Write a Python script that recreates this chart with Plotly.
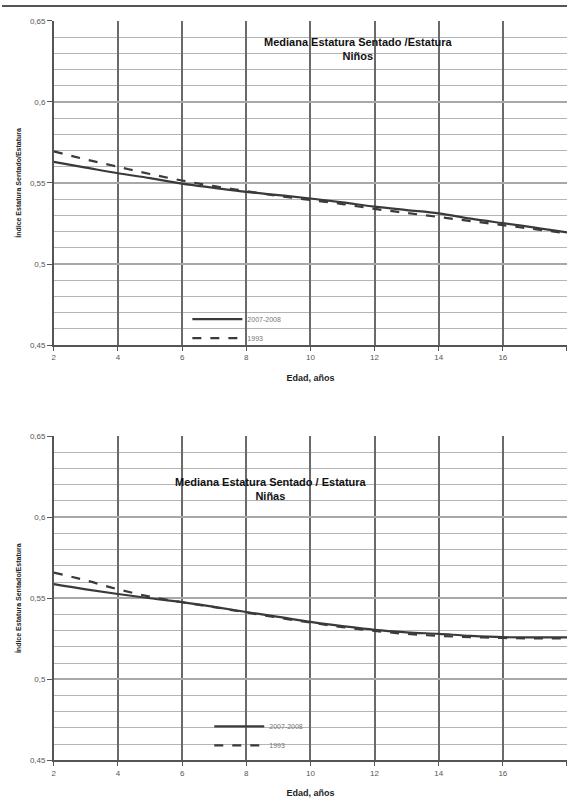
import plotly.graph_objects as go

# ---- data ----
ages = [2, 3, 4, 5, 6, 7, 8, 9, 10, 11, 12, 13, 14, 15, 16, 17, 18]

ninos_solid = [0.5630, 0.5595, 0.5560, 0.5530, 0.5496, 0.5470, 0.5445, 0.5425, 0.5404,
               0.5380, 0.5354, 0.5333, 0.5313, 0.5280, 0.5252, 0.5225, 0.5195]
ninos_dash = [0.5695, 0.5645, 0.5600, 0.5555, 0.5515, 0.5480, 0.5450, 0.5420, 0.5395,
              0.5370, 0.5340, 0.5315, 0.5290, 0.5265, 0.5240, 0.5215, 0.5190]

ninas_solid = [0.5587, 0.5555, 0.5526, 0.5500, 0.5476, 0.5447, 0.5415, 0.5385, 0.5354,
               0.5328, 0.5305, 0.5290, 0.5280, 0.5268, 0.5260, 0.5258, 0.5258]
ninas_dash = [0.5658, 0.5610, 0.5555, 0.5510, 0.5475, 0.5445, 0.5412, 0.5380, 0.5350,
              0.5322, 0.5298, 0.5280, 0.5268, 0.5260, 0.5255, 0.5252, 0.5252]

series_names = ["2007-2008", "1993"]
titles = ["Mediana Estatura Sentado /Estatura<br>Niños",
          "Mediana Estatura Sentado / Estatura<br>Niñas"]
x_ticks = [2, 4, 6, 8, 10, 12, 14, 16, 18]
y_ticks = [0.45, 0.50, 0.55, 0.60, 0.65]
y_ticktext = ["0,45", "0,5", "0,55", "0,6", "0,65"]
x_title = "Edad, años"
y_title = "Índice Estatura Sentado/Estatura"

W, H = 567, 799
LINE = "#3a3a3a"

fig = go.Figure()

panels = [
    (ninos_solid, ninos_dash, "x", "y", "legend"),
    (ninas_solid, ninas_dash, "x2", "y2", "legend2"),
]
for solid, dash, xa, ya, lg in panels:
    fig.add_trace(go.Scatter(x=ages, y=solid, mode="lines", name=series_names[0],
                             line=dict(color=LINE, width=2.2, shape="spline"),
                             xaxis=xa, yaxis=ya, legend=lg))
    fig.add_trace(go.Scatter(x=ages, y=dash, mode="lines", name=series_names[1],
                             line=dict(color=LINE, width=2.2, dash="dash", shape="spline"),
                             xaxis=xa, yaxis=ya, legend=lg))

def px_y(p):
    return 1 - p / H

x_dom = [52 / W, 1.0]
dom_top = [px_y(345), px_y(17)]
dom_bot = [px_y(765), px_y(437)]

tickfont = dict(family="Liberation Sans, Arial", size=8, color="#555")
titlefont = dict(family="Liberation Sans, Arial", size=9, color="#222")

def xaxis(anchor, dom):
    return dict(domain=x_dom, anchor=anchor, range=[2, 18], tickvals=x_ticks,
                showgrid=True, gridcolor="#6a6a6a", gridwidth=1.6,
                showline=True, linecolor="#555", linewidth=1.5,
                ticks="outside", ticklen=4, tickcolor="#555",
                tickfont=tickfont, zeroline=False,
                title=dict(text="<b>" + x_title + "</b>", font=titlefont, standoff=13))

def yaxis(anchor, dom):
    return dict(domain=dom, anchor=anchor, range=[0.45, 0.65],
                tickvals=y_ticks, ticktext=y_ticktext,
                showgrid=True, gridcolor="#a8a8a8", gridwidth=1.6,
                minor=dict(dtick=0.01, tick0=0.45, showgrid=True,
                           gridcolor="#b4b4b4", gridwidth=1.4),
                showline=True, linecolor="#555", linewidth=1.5,
                ticks="outside", ticklen=5, tickcolor="#555",
                tickfont=tickfont, zeroline=False,
                title=dict(text="<b>" + y_title + "</b>",
                           font=dict(family="Liberation Sans, Arial", size=7, color="#222"),
                           standoff=7))

legfont = dict(family="Liberation Sans, Arial", size=7, color="#777")

fig.update_layout(
    width=W, height=H,
    margin=dict(l=0, r=0, t=0, b=0),
    paper_bgcolor="white", plot_bgcolor="white",
    xaxis=xaxis("y", dom_top), yaxis=yaxis("x", dom_top),
    xaxis2=xaxis("y2", dom_bot), yaxis2=yaxis("x2", dom_bot),
    legend=dict(x=186 / W, y=px_y(304), xanchor="left", yanchor="top",
                bgcolor="rgba(255,255,255,0)", tracegroupgap=0, itemwidth=50,
                font=legfont),
    legend2=dict(x=208 / W, y=px_y(716), xanchor="left", yanchor="top",
                 bgcolor="rgba(255,255,255,0)", tracegroupgap=0, itemwidth=50,
                 font=legfont),
    shapes=[dict(type="line", xref="paper", yref="paper", x0=0, x1=1,
                 y0=px_y(2), y1=px_y(2), line=dict(color="#555", width=2))],
    annotations=[
        dict(text="<b>" + titles[0] + "</b>", xref="paper", yref="paper",
             x=358 / W, y=px_y(30), xanchor="center", yanchor="top", showarrow=False,
             font=dict(family="Liberation Sans, Arial", size=11, color="#111")),
        dict(text="<b>" + titles[1] + "</b>", xref="paper", yref="paper",
             x=270 / W, y=px_y(475), xanchor="center", yanchor="top", showarrow=False,
             font=dict(family="Liberation Sans, Arial", size=11, color="#111")),
    ],
)

fig.write_html("out.html", config={"displayModeBar": False},
               post_script="document.body.style.margin='0';document.body.style.overflow='hidden';")
